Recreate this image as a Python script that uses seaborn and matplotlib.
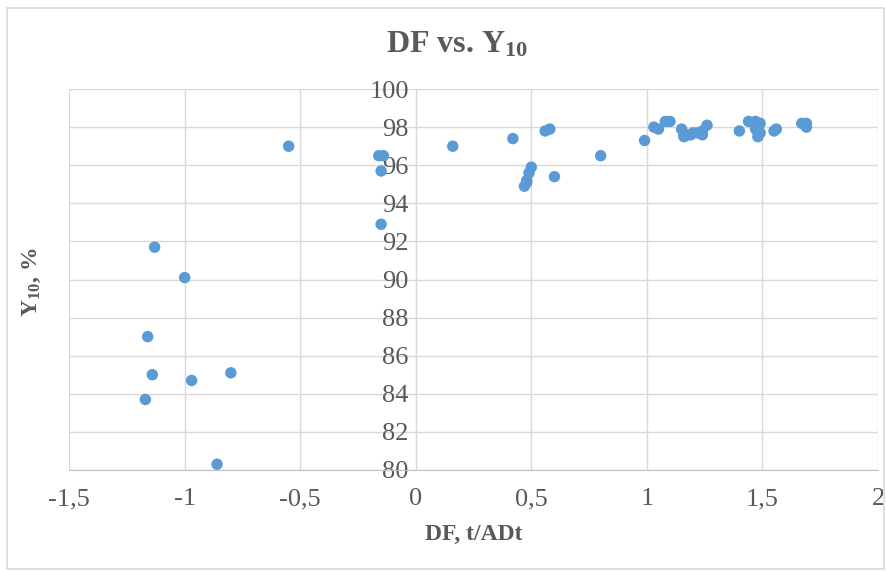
import matplotlib
matplotlib.use("Agg")
import matplotlib.pyplot as plt
import seaborn as sns
import numpy as np
import pandas as pd
from matplotlib.patches import Rectangle

# DF (t/ADt) and Y10 (%) values
df_left = [-0.55, -0.16, -0.14, -0.15, -0.15, -1.13, -1.00, -1.16, -1.14, -0.97, -0.80, -1.17, -0.86]
y_left = [97.0, 96.5, 96.5, 95.7, 92.9, 91.7, 90.1, 87.0, 85.0, 84.7, 85.1, 83.7, 80.3]

df_right = [0.16, 0.42, 0.56, 0.58, 0.50, 0.49, 0.48, 0.47, 0.48, 0.60, 0.80, 0.99,
            1.03, 1.05, 1.08, 1.10, 1.15, 1.16, 1.18, 1.20, 1.22, 1.24, 1.24, 1.26,
            1.40, 1.44, 1.47, 1.48, 1.49, 1.48, 1.55, 1.56, 1.67, 1.69, 1.69,
            1.16, 1.19, 1.23, 1.49, 1.47]
y_right = [97.0, 97.4, 97.8, 97.9, 95.9, 95.6, 95.2, 94.9, 95.1, 95.4, 96.5, 97.3,
           98.0, 97.9, 98.3, 98.3, 97.9, 97.6, 97.6, 97.7, 97.7, 97.8, 97.6, 98.1,
           97.8, 98.3, 98.3, 98.0, 97.7, 97.5, 97.8, 97.9, 98.2, 98.2, 98.0,
           97.5, 97.6, 97.7, 98.2, 97.9]

x_ticks = [-1.5, -1, -0.5, 0, 0.5, 1, 1.5, 2]
x_labels = ["-1,5", "-1", "-0,5", "0", "0,5", "1", "1,5", "2"]
y_ticks = list(range(80, 101, 2))

data = pd.DataFrame({"DF": df_left + df_right, "Y10": y_left + y_right})

sns.set_style("white")
plt.rcParams["font.family"] = ["Liberation Serif", "DejaVu Serif"]
plt.rcParams["mathtext.fontset"] = "custom"
plt.rcParams["mathtext.rm"] = "Liberation Serif:bold"
plt.rcParams["mathtext.default"] = "rm"

text_col = "#595959"
grid_col = "#d9d9d9"

fig = plt.figure(figsize=(8.86, 5.71), dpi=100)
ax = fig.add_axes([0.078, 0.177, 0.913, 0.667])

sns.scatterplot(data=data, x="DF", y="Y10", ax=ax, color="#5b9bd5",
                s=68, edgecolor="none", zorder=3)

ax.set_xlim(-1.5, 2)
ax.set_ylim(80, 100)
ax.set_xticks(x_ticks)
ax.set_xticklabels(x_labels)
ax.set_yticks(y_ticks)

ax.grid(True, color=grid_col, linewidth=1)
ax.set_axisbelow(True)
for s in ["top", "right"]:
    ax.spines[s].set_visible(False)
ax.spines["left"].set_position(("data", 0))
ax.spines["left"].set_color(grid_col)
ax.spines["bottom"].set_color("#bfbfbf")
ax.spines["left"].set_zorder(1)

ax.tick_params(axis="both", length=0, labelsize=19, colors=text_col)
ax.tick_params(axis="x", pad=13)
ax.tick_params(axis="y", pad=5)

ax.set_xlabel("DF, t/ADt", fontsize=17, fontweight="bold", color=text_col, labelpad=10)
ax.set_ylabel("")
fig.text(0.036, 0.505, r"Y$_{10}$, %", rotation=90, fontsize=17,
         fontweight="bold", color=text_col, ha="center", va="center")
fig.text(0.516, 0.922, r"DF vs. Y$_{10}$", fontsize=23, fontweight="bold",
         color=text_col, ha="center", va="center")

fig.patches.append(Rectangle((0.008, 0.004), 0.99, 0.982, transform=fig.transFigure,
                             fill=False, edgecolor=grid_col, linewidth=1.2))

fig.savefig("out.png", dpi=100)
